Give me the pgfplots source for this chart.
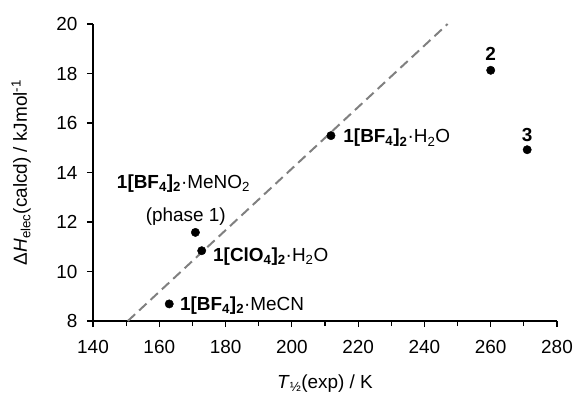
\documentclass[border=0pt]{standalone}
\usepackage{pgfplots}
\pgfplotsset{compat=1.18}
\usepackage{fontspec}
\setmainfont{Liberation Sans}
\begin{document}
\fontsize{19}{22}\selectfont
\begin{tikzpicture}[x=1bp,y=1bp,font=\fontsize{19}{22}\selectfont]
\path[use as bounding box] (-93bp,-73bp) rectangle (482bp,321bp);
\begin{axis}[
  scale only axis,
  width=464bp, height=297bp,
  xmin=140, xmax=280, ymin=8, ymax=20,
  axis x line=bottom, axis y line=left,
  axis line style={-, line width=1.3pt, black},
  xtick={140,160,...,280}, ytick={8,10,...,20},
  minor xtick={150,170,...,270},
  tick align=outside,
  major tick length=6bp, minor tick length=5bp,
  tick style={line width=1.1pt, black},
  /pgf/number format/assume math mode=true,
  ticklabel style={font=\fontsize{19}{22}\selectfont},
  xticklabel style={yshift=-7bp},
  yticklabel style={xshift=-3bp},
  xlabel={\textit{T}\textsubscript{½}(exp) / K},
  ylabel={Δ\textit{H}\textsubscript{elec}(calcd) / kJmol\textsuperscript{-1}},
  xlabel style={at={(axis description cs:0.5,-0.226)}, anchor=base, font=\fontsize{19}{22}\selectfont},
  ylabel style={at={(axis description cs:-0.155,0.5)}, anchor=center, font=\fontsize{19}{22}\selectfont},
  every node/.append style={font=\fontsize{19}{22}\selectfont},
  clip=false,
]
\addplot[black!50, line width=2pt, dash pattern=on 10bp off 5.5bp] coordinates {(150.5,8) (247,20)};
\addplot[only marks, mark=*, mark size=4.2bp, black] coordinates {
  (163,8.69) (170.9,11.58) (172.8,10.84) (211.8,15.49) (260,18.13) (271,14.92)};
\node[anchor=base west, inner sep=0pt] at (axis cs:166.2,8.44) {\textbf{1[BF\textsubscript{4}]\textsubscript{2}}·MeCN};
\node[anchor=base west, inner sep=0pt] at (axis cs:176.2,10.40) {\textbf{1[ClO\textsubscript{4}]\textsubscript{2}}·H\textsubscript{2}O};
\node[anchor=base west, inner sep=0pt] at (axis cs:215.5,15.20) {\textbf{1[BF\textsubscript{4}]\textsubscript{2}}·H\textsubscript{2}O};
\node[anchor=base, inner sep=0pt] at (axis cs:167.3,13.35) {\textbf{1[BF\textsubscript{4}]\textsubscript{2}}·MeNO\textsubscript{2}};
\node[anchor=base, inner sep=0pt] at (axis cs:168,12.03) {(phase 1)};
\node[anchor=base, inner sep=0pt] at (axis cs:260,18.52) {\textbf{2}};
\node[anchor=base, inner sep=0pt] at (axis cs:271,15.24) {\textbf{3}};
\end{axis}
\end{tikzpicture}
\end{document}
